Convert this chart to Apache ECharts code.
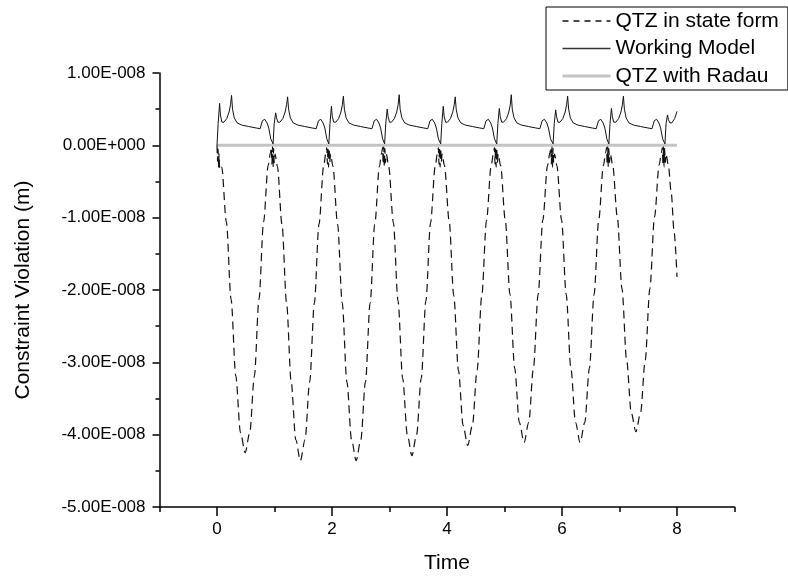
<!DOCTYPE html>
<html><head><meta charset="utf-8">
<script src="https://cdn.jsdelivr.net/npm/echarts@6/dist/echarts.min.js"></script>
<style>html,body{margin:0;padding:0;background:#fff}#c{width:788px;height:579px}</style>
</head><body><div id="c"></div>
<script>
// values are in units of 1e-8 m (labels are formatted back to metres)
const xMajorTicks = [0, 2, 4, 6, 8];
const xMinorTicks = [-1, 1, 3, 5, 7, 9];
const seriesNames = ['QTZ in state form', 'Working Model', 'QTZ with Radau'];

const qtzStateForm = [
[0,0],[0.01,-0.22],[0.018,-0.05],[0.028,-0.3],[0.036,-0.12],[0.046,-0.34],
[0.082,-0.3],[0.163,-1.06],[0.245,-2.13],[0.327,-3.19],[0.408,-3.97],[0.49,-4.25],
[0.57,-3.97],[0.65,-3.19],[0.73,-2.13],[0.81,-1.06],[0.89,-0.28],
[0.93,-0.1],[0.945,-0.03],[0.955,-0.26],[0.965,-0.02],[0.975,-0.3],[0.985,-0.04],[0.995,-0.24],[1.01,-0.12],
[1.05,-0.29],[1.13,-1.09],[1.21,-2.18],[1.29,-3.27],[1.37,-4.07],[1.45,-4.36],
[1.531,-4.07],[1.612,-3.27],[1.693,-2.18],[1.774,-1.09],[1.855,-0.29],
[1.895,-0.1],[1.91,-0.03],[1.92,-0.26],[1.93,-0.02],[1.94,-0.3],[1.95,-0.04],[1.96,-0.24],[1.975,-0.12],
[2.016,-0.29],[2.097,-1.09],[2.178,-2.18],[2.259,-3.27],[2.34,-4.07],[2.42,-4.36],
[2.501,-4.07],[2.582,-3.27],[2.663,-2.18],[2.744,-1.09],[2.825,-0.29],
[2.865,-0.1],[2.88,-0.03],[2.89,-0.26],[2.9,-0.02],[2.91,-0.3],[2.92,-0.04],[2.93,-0.24],[2.945,-0.12],
[2.986,-0.29],[3.067,-1.07],[3.148,-2.15],[3.229,-3.22],[3.31,-4.0],[3.39,-4.29],
[3.471,-4.0],[3.552,-3.22],[3.633,-2.15],[3.714,-1.07],[3.795,-0.29],
[3.835,-0.1],[3.85,-0.03],[3.86,-0.26],[3.87,-0.02],[3.88,-0.3],[3.89,-0.04],[3.9,-0.24],[3.915,-0.12],
[3.956,-0.28],[4.037,-1.04],[4.118,-2.08],[4.199,-3.11],[4.28,-3.87],[4.36,-4.15],
[4.442,-3.87],[4.523,-3.11],[4.605,-2.08],[4.687,-1.04],[4.768,-0.28],
[4.81,-0.1],[4.825,-0.03],[4.835,-0.26],[4.845,-0.02],[4.855,-0.3],[4.865,-0.04],[4.875,-0.24],[4.89,-0.12],
[4.932,-0.28],[5.013,-1.03],[5.095,-2.06],[5.177,-3.08],[5.258,-3.83],[5.34,-4.11],
[5.422,-3.83],[5.503,-3.08],[5.585,-2.06],[5.667,-1.03],[5.748,-0.28],
[5.79,-0.1],[5.805,-0.03],[5.815,-0.26],[5.825,-0.02],[5.835,-0.3],[5.845,-0.04],[5.855,-0.24],[5.87,-0.12],
[5.911,-0.28],[5.992,-1.03],[6.073,-2.06],[6.154,-3.08],[6.235,-3.83],[6.315,-4.11],
[6.396,-3.83],[6.477,-3.08],[6.558,-2.06],[6.639,-1.03],[6.72,-0.28],
[6.76,-0.1],[6.775,-0.03],[6.785,-0.26],[6.795,-0.02],[6.805,-0.3],[6.815,-0.04],[6.825,-0.24],[6.84,-0.12],
[6.881,-0.27],[6.962,-0.99],[7.043,-1.98],[7.124,-2.97],[7.205,-3.7],[7.285,-3.96],
[7.366,-3.7],[7.447,-2.97],[7.528,-1.98],[7.609,-0.99],[7.69,-0.27],
[7.73,-0.1],[7.745,-0.03],[7.755,-0.26],[7.765,-0.02],[7.775,-0.3],[7.785,-0.04],[7.795,-0.24],[7.81,-0.12],
[7.85,-0.28],[7.9,-0.66],[7.95,-1.2],[8.0,-1.82]
];

const workingModel = [
[0,0],[0.02,0.3],[0.045,0.58],[0.06,0.42],[0.085,0.32],[0.12,0.32],[0.17,0.37],[0.21,0.46],[0.235,0.56],[0.253,0.69],[0.27,0.5],[0.3,0.38],[0.35,0.31],[0.43,0.28],[0.55,0.26],[0.68,0.24],[0.75,0.23],[0.79,0.34],[0.83,0.36],[0.87,0.31],[0.9,0.24],[0.935,0.09],
[0.975,0.02],[0.995,0.3],[1.02,0.45],[1.035,0.38],[1.06,0.32],[1.095,0.32],[1.145,0.37],[1.185,0.46],[1.21,0.56],[1.228,0.67],[1.245,0.5],[1.275,0.38],[1.325,0.31],[1.405,0.28],[1.525,0.26],[1.655,0.24],[1.725,0.23],[1.765,0.34],[1.805,0.36],[1.845,0.31],[1.875,0.24],[1.91,0.09],
[1.945,0.02],[1.965,0.3],[1.99,0.54],[2.005,0.4],[2.03,0.32],[2.065,0.32],[2.115,0.37],[2.155,0.46],[2.18,0.56],[2.198,0.68],[2.215,0.5],[2.245,0.38],[2.295,0.31],[2.375,0.28],[2.495,0.26],[2.625,0.24],[2.695,0.23],[2.735,0.34],[2.775,0.36],[2.815,0.31],[2.845,0.24],[2.88,0.09],
[2.915,0.02],[2.935,0.3],[2.96,0.5],[2.975,0.4],[3.0,0.32],[3.035,0.32],[3.085,0.37],[3.125,0.46],[3.15,0.56],[3.168,0.7],[3.185,0.5],[3.215,0.38],[3.265,0.31],[3.345,0.28],[3.465,0.26],[3.595,0.24],[3.665,0.23],[3.705,0.34],[3.745,0.36],[3.785,0.31],[3.815,0.24],[3.85,0.09],
[3.89,0.02],[3.91,0.3],[3.935,0.54],[3.95,0.4],[3.975,0.32],[4.01,0.32],[4.06,0.37],[4.1,0.46],[4.125,0.56],[4.143,0.67],[4.16,0.5],[4.19,0.38],[4.24,0.31],[4.32,0.28],[4.44,0.26],[4.57,0.24],[4.64,0.23],[4.68,0.34],[4.72,0.36],[4.76,0.31],[4.79,0.24],[4.825,0.09],
[4.865,0.02],[4.885,0.3],[4.91,0.51],[4.925,0.4],[4.95,0.32],[4.985,0.32],[5.035,0.37],[5.075,0.46],[5.1,0.56],[5.118,0.7],[5.135,0.5],[5.165,0.38],[5.215,0.31],[5.295,0.28],[5.415,0.26],[5.545,0.24],[5.615,0.23],[5.655,0.34],[5.695,0.36],[5.735,0.31],[5.765,0.24],[5.8,0.09],
[5.845,0.02],[5.865,0.3],[5.89,0.49],[5.905,0.4],[5.93,0.32],[5.965,0.32],[6.015,0.37],[6.055,0.46],[6.08,0.56],[6.098,0.68],[6.115,0.5],[6.145,0.38],[6.195,0.31],[6.275,0.28],[6.395,0.26],[6.525,0.24],[6.595,0.23],[6.635,0.34],[6.675,0.36],[6.715,0.31],[6.745,0.24],[6.78,0.09],
[6.815,0.02],[6.835,0.3],[6.86,0.51],[6.875,0.4],[6.9,0.32],[6.935,0.32],[6.985,0.37],[7.025,0.46],[7.05,0.56],[7.068,0.68],[7.085,0.5],[7.115,0.38],[7.165,0.31],[7.245,0.28],[7.365,0.26],[7.495,0.24],[7.565,0.23],[7.605,0.34],[7.645,0.36],[7.685,0.31],[7.715,0.24],[7.75,0.09],
[7.79,0.02],[7.81,0.3],[7.835,0.42],[7.85,0.36],[7.875,0.31],[7.91,0.31],[7.96,0.37],[8.0,0.47]
];

const qtzRadau = [[0,0],[8,0]];

const FONT = "'Liberation Sans', Arial, sans-serif";

function fmtSci(v) {
  const s = (v * 1e-8).toExponential(2);
  const parts = s.split('e');
  const sign = parts[1][0] === '-' ? '-' : '+';
  const digits = parts[1].replace(/[+-]/, '').padStart(3, '0');
  return parts[0] + 'E' + sign + digits;
}

const chart = echarts.init(document.getElementById('c'), null, {renderer: 'canvas'});
const axisCol = '#000';
const dashPattern = [8, 5];
chart.setOption({
  animation: false,
  backgroundColor: '#fff',
  textStyle: {fontFamily: FONT},
  legend: {
    data: [
      {name: seriesNames[0], lineStyle: {width: 1.3, color: '#111', type: [6, 5]}},
      {name: seriesNames[1], lineStyle: {width: 1.3, color: '#333'}},
      {name: seriesNames[2], lineStyle: {width: 3, color: '#c4c4c4'}}
    ],
    orient: 'vertical',
    left: 546, top: 7,
    padding: [3.5, 9, 3.5, 15],
    itemWidth: 48, itemHeight: 14, itemGap: 6.5,
    borderColor: '#000', borderWidth: 1,
    backgroundColor: '#fff',
    itemStyle: {opacity: 0},
    textStyle: {fontFamily: FONT, fontSize: 21, color: '#000', lineHeight: 21},
    selectedMode: false
  },
  grid: {left: 159.5, top: 73, width: 575, height: 437, containLabel: false},
  xAxis: [{
    type: 'value', min: -1, max: 9,
    name: 'Time', nameLocation: 'middle', nameGap: 46,
    nameTextStyle: {fontFamily: FONT, fontSize: 21, color: '#000'},
    axisLine: {show: true, onZero: false, lineStyle: {color: axisCol, width: 1.5}},
    axisTick: {show: true, customValues: xMajorTicks, length: 9, lineStyle: {color: axisCol, width: 1.5}},
    axisLabel: {customValues: xMajorTicks, fontFamily: FONT, fontSize: 17, color: '#000', margin: 14},
    splitLine: {show: false}
  }, {
    type: 'value', min: -1, max: 9, position: 'bottom',
    axisLine: {show: false, onZero: false},
    axisTick: {show: true, customValues: xMinorTicks, length: 5, lineStyle: {color: axisCol, width: 1.5}},
    axisLabel: {show: false},
    splitLine: {show: false}
  }],
  yAxis: {
    type: 'value', min: -5, max: 1, interval: 1,
    name: 'Constraint Violation (m)', nameLocation: 'middle', nameGap: 126,
    nameTextStyle: {fontFamily: FONT, fontSize: 21, color: '#000'},
    axisLine: {show: true, onZero: false, lineStyle: {color: axisCol, width: 1.5}},
    axisTick: {show: true, length: 7, lineStyle: {color: axisCol, width: 1.5}},
    minorTick: {show: true, splitNumber: 2, length: 4, lineStyle: {color: axisCol, width: 1.5}},
    axisLabel: {formatter: fmtSci, fontFamily: FONT, fontSize: 17, color: '#000', margin: 14},
    splitLine: {show: false},
    minorSplitLine: {show: false}
  },
  series: [{
    name: 'QTZ with Radau', type: 'line', data: qtzRadau,
    symbol: 'none', showSymbol: false,
    lineStyle: {color: '#c4c4c4', width: 3}, itemStyle: {color: '#c4c4c4'}
  }, {
    name: 'QTZ in state form', type: 'line', data: qtzStateForm,
    symbol: 'none', showSymbol: false, smooth: 0.3, smoothMonotone: 'x',
    lineStyle: {color: '#111', width: 1.2, type: dashPattern}, itemStyle: {color: '#111'}
  }, {
    name: 'Working Model', type: 'line', data: workingModel,
    symbol: 'none', showSymbol: false,
    lineStyle: {color: '#111', width: 1}, itemStyle: {color: '#111'}
  }]
});
</script>
</body></html>
